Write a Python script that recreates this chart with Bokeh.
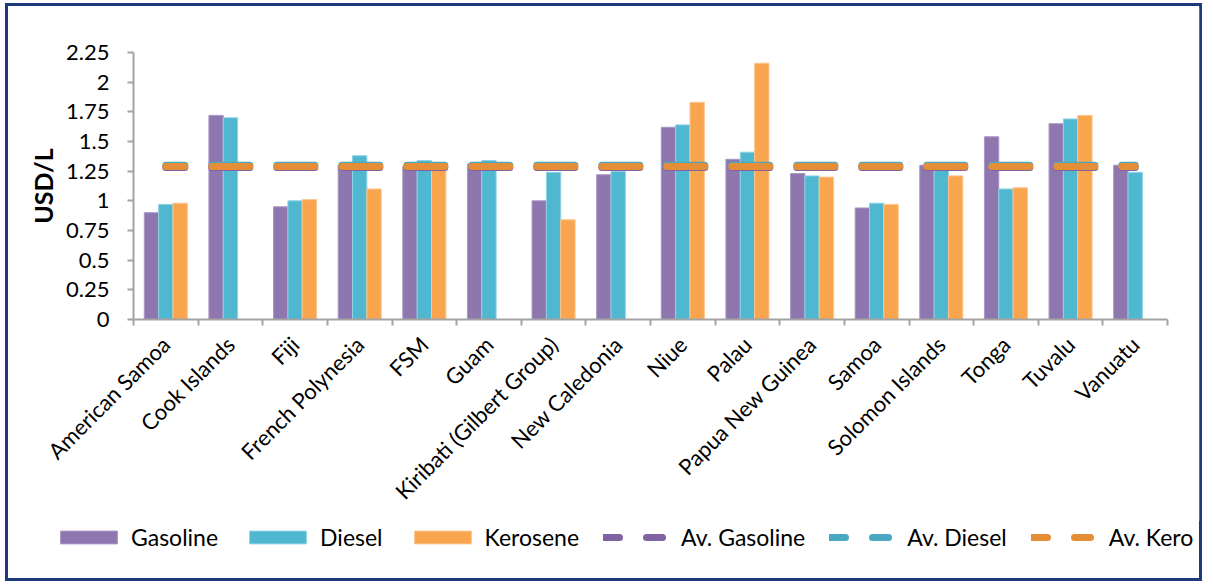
import math

from bokeh.embed import file_html
from bokeh.layouts import column
from bokeh.models import ColumnDataSource, FixedTicker, Legend, LegendItem, LinearAxis, Range1d
from bokeh.plotting import figure
from bokeh.resources import INLINE

# Retail fuel prices in Pacific island countries (USD per litre)
countries = [
    "American Samoa", "Cook Islands", "Fiji", "French Polynesia", "FSM", "Guam",
    "Kiribati (Gilbert Group)", "New Caledonia", "Niue", "Palau", "Papua New Guinea",
    "Samoa", "Solomon Islands", "Tonga", "Tuvalu", "Vanuatu",
]
gasoline = [0.90, 1.72, 0.95, 1.30, 1.29, 1.31, 1.00, 1.22, 1.62, 1.35, 1.23, 0.94, 1.30, 1.54, 1.65, 1.30]
diesel = [0.97, 1.70, 1.00, 1.38, 1.34, 1.34, 1.24, 1.25, 1.64, 1.41, 1.21, 0.98, 1.29, 1.10, 1.69, 1.24]
kerosene = [0.98, None, 1.01, 1.10, 1.27, None, 0.84, None, 1.83, 2.16, 1.20, 0.97, 1.21, 1.11, 1.72, None]

# Regional averages
av_gasoline = 1.28
av_diesel = 1.30
av_kero = 1.29

y_ticks = [0, 0.25, 0.5, 0.75, 1, 1.25, 1.5, 1.75, 2, 2.25]
y_tick_labels = ["0", "0.25", "0.5", "0.75", "1", "1.25", "1.5", "1.75", "2", "2.25"]

FONT = "Lato"
GRID = "#a3a3a3"
C_GAS, C_DIE, C_KER = "#8e77af", "#50b7d1", "#f9a54e"
E_GAS, E_DIE, E_KER = "#a996c4", "#8fd3e4", "#fcc58d"
A_GAS, A_DIE, A_KER = "#8064a2", "#4aa9c2", "#e48f38"

n = len(countries)
centers = [i + 0.5 for i in range(n)]
bar_w = 0.222


def nan_if_none(vals):
    return [math.nan if v is None else v for v in vals]


src = ColumnDataSource(dict(
    center=centers,
    x_gas=[c - bar_w for c in centers],
    x_die=centers,
    x_ker=[c + bar_w for c in centers],
    gasoline=gasoline,
    diesel=diesel,
    kerosene=nan_if_none(kerosene),
    av_gas=[av_gasoline] * n,
    av_die=[av_diesel] * n,
    av_ker=[av_kero] * n,
))

p = figure(
    frame_width=1040, frame_height=267,
    min_border_left=125, min_border_right=32, min_border_top=46, min_border_bottom=202,
    x_range=Range1d(0, n), y_range=Range1d(0, 2.25),
    output_backend="svg", toolbar_location=None, tools="",
    x_axis_type=None, y_axis_type=None,
)
p.frame_align = False
p.outline_line_color = None
p.background_fill_color = "white"
p.border_fill_color = "white"

# Category axis: names under each group, tick marks between groups
xaxis = LinearAxis(
    ticker=FixedTicker(ticks=centers, minor_ticks=list(range(n + 1))),
    major_label_overrides={c: name for c, name in zip(centers, countries)},
    major_label_orientation=math.pi / 4,
    major_tick_out=0, major_tick_in=0,
    minor_tick_out=6, minor_tick_in=0,
    minor_tick_line_color=GRID, minor_tick_line_width=2,
    axis_line_color=GRID, axis_line_width=2,
    major_label_text_font=FONT, major_label_text_font_size="22px",
    major_label_text_color="black", major_label_standoff=15,
)
p.add_layout(xaxis, "below")

yaxis = LinearAxis(
    ticker=FixedTicker(ticks=y_ticks),
    major_label_overrides={t: s for t, s in zip(y_ticks, y_tick_labels)},
    major_tick_out=6, major_tick_in=0,
    major_tick_line_color=GRID, major_tick_line_width=2,
    minor_tick_out=0, minor_tick_in=0,
    axis_line_color=GRID, axis_line_width=2,
    major_label_text_font=FONT, major_label_text_font_size="22px",
    major_label_text_color="black", major_label_standoff=18,
    axis_label="USD/L", axis_label_text_font=FONT, axis_label_text_font_style="bold",
    axis_label_text_font_size="25px", axis_label_text_color="black",
    axis_label_standoff=5,
)
p.add_layout(yaxis, "left")

p.ygrid.ticker = FixedTicker(ticks=y_ticks)
p.ygrid.grid_line_color = GRID
p.ygrid.grid_line_width = 2
p.xgrid.grid_line_color = None

# Bars
p.vbar(x="x_gas", top="gasoline", width=bar_w, source=src,
       fill_color=C_GAS, line_color=E_GAS, line_width=1)
p.vbar(x="x_die", top="diesel", width=bar_w, source=src,
       fill_color=C_DIE, line_color=E_DIE, line_width=1)
p.vbar(x="x_ker", top="kerosene", width=bar_w, source=src,
       fill_color=C_KER, line_color=E_KER, line_width=1)

# Average lines, one dash centred on each country
dash_kw = dict(line_width=7, line_dash="38 27", line_dash_offset=19, line_cap="round")
p.line(x="center", y="av_gas", source=src, line_color=A_GAS, **dash_kw)
p.line(x="center", y="av_die", source=src, line_color=A_DIE, **dash_kw)
p.line(x="center", y="av_ker", source=src, line_color=A_KER, **dash_kw)

# Legend strip underneath the chart (key glyphs carry no drawable data)
pl = figure(
    width=1197, height=57, min_border=0,
    x_range=Range1d(0, 1), y_range=Range1d(0, 1),
    output_backend="svg", toolbar_location=None, tools="",
    x_axis_type=None, y_axis_type=None,
)
pl.frame_align = False
pl.outline_line_color = None
pl.xgrid.grid_line_color = None
pl.ygrid.grid_line_color = None

key = ColumnDataSource(dict(x=[math.nan], y=[math.nan]))
k_gas = pl.vbar(x="x", top="y", width=0.1, source=key, fill_color=C_GAS, line_color=E_GAS, line_width=1)
k_die = pl.vbar(x="x", top="y", width=0.1, source=key, fill_color=C_DIE, line_color=E_DIE, line_width=1)
k_ker = pl.vbar(x="x", top="y", width=0.1, source=key, fill_color=C_KER, line_color=E_KER, line_width=1)
leg_kw = dict(line_width=7, line_dash="16 27", line_cap="round")
l_gas = pl.line(x="x", y="y", source=key, line_color=A_GAS, **leg_kw)
l_die = pl.line(x="x", y="y", source=key, line_color=A_DIE, **leg_kw)
l_ker = pl.line(x="x", y="y", source=key, line_color=A_KER, **leg_kw)

legend = Legend(
    items=[
        LegendItem(label="Gasoline", renderers=[k_gas]),
        LegendItem(label="Diesel", renderers=[k_die]),
        LegendItem(label="Kerosene", renderers=[k_ker]),
        LegendItem(label="Av. Gasoline", renderers=[l_gas]),
        LegendItem(label="Av. Diesel", renderers=[l_die]),
        LegendItem(label="Av. Kero", renderers=[l_ker]),
    ],
    orientation="horizontal",
    location=(45, 27),
    glyph_width=71, glyph_height=16, label_standoff=7, spacing=24,
    padding=0, margin=0,
    label_text_font=FONT, label_text_font_size="23px", label_text_color="black",
    background_fill_alpha=0, border_line_alpha=0,
)
pl.add_layout(legend, "center")

layout = column(p, pl, spacing=0)
layout.styles = {"border": "3px solid #1d3b7c", "margin-left": "5px", "margin-top": "3px",
                 "width": "1197px"}

open("out.html", "w").write(file_html(layout, INLINE))
